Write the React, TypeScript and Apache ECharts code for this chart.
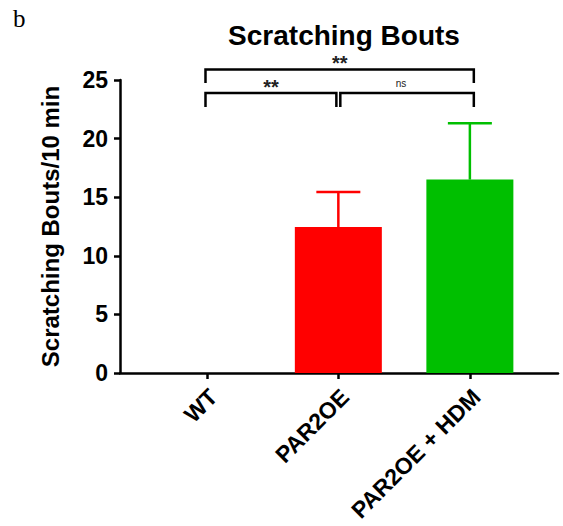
import React, { useEffect, useRef } from "react";
import * as echarts from "echarts";

const categories = ["WT", "PAR2OE", "PAR2OE + HDM"];
const means = [0, 12.45, 16.5];
const errors = [0, 3.0, 4.8];
const barColors = ["#000000", "#FF0000", "#00BF00"];
const yTicks = [0, 5, 10, 15, 20, 25];
// brackets: [x start, x end, bar height, drop end, label]
const brackets: [number, number, number, number, string][] = [
  [-0.01, 2.03, 25.9, 24.75, "**"],
  [-0.01, 0.985, 23.9, 22.7, "**"],
  [1.015, 2.03, 23.9, 22.7, "ns"],
];

const FONT = "Arial, 'Liberation Sans', sans-serif";

export default function App() {
  const ref = useRef<HTMLDivElement>(null);
  useEffect(() => {
    document.body.style.margin = "0";
    const chart = echarts.init(ref.current!, null, { renderer: "svg" });
    const idx = categories.map((_, i) => i);
    const labelPos = idx.map((i) => i + 0.05);
    chart.setOption({
      animation: false,
      backgroundColor: "#ffffff",
      title: {
        text: "Scratching Bouts",
        left: 339,
        top: 16,
        textAlign: "center",
        textStyle: { fontFamily: FONT, fontWeight: "bold", fontSize: 28, color: "#000" },
      },
      graphic: [
        {
          type: "text",
          left: 13,
          top: 6,
          style: { text: "b", font: "25px 'Liberation Serif', 'Times New Roman', serif", fill: "#000" },
        },
      ],
      grid: { left: 120, right: 5, top: 80, bottom: 153 },
      xAxis: {
        type: "value",
        min: -0.66,
        max: 2.67,
        splitLine: { show: false },
        axisLine: { show: true, onZero: false, lineStyle: { color: "#000", width: 2.5 } },
        axisTick: { show: true, customValues: idx, length: 6, lineStyle: { color: "#000", width: 2.5 } },
        axisLabel: {
          customValues: labelPos,
          formatter: (v: number) => categories[Math.round(v)] ?? "",
          rotate: 45,
          margin: 20,
          fontFamily: FONT,
          fontWeight: "bold",
          fontSize: 23,
          color: "#000",
        },
      },
      yAxis: {
        type: "value",
        min: 0,
        max: 25,
        interval: 5,
        name: "Scratching Bouts/10 min",
        nameLocation: "middle",
        nameGap: 58,
        nameTextStyle: { fontFamily: FONT, fontWeight: "bold", fontSize: 24, color: "#000" },
        splitLine: { show: false },
        axisLine: { show: true, onZero: false, lineStyle: { color: "#000", width: 2.5 } },
        axisTick: { show: true, length: 6, lineStyle: { color: "#000", width: 2.5 } },
        axisLabel: {
          margin: 12,
          fontFamily: FONT,
          fontWeight: "bold",
          fontSize: 23,
          color: "#000",
          formatter: (v: number) => (yTicks.includes(v) ? String(v) : ""),
        },
      },
      series: [
        {
          type: "bar",
          barWidth: 87,
          data: means.map((m, i) => ({ value: [i, m], itemStyle: { color: barColors[i] } })),
        },
        {
          type: "custom",
          data: means.map((m, i) => [i, m, m + errors[i]]).filter((d) => d[2] > d[1]),
          renderItem: (params: any, api: any) => {
            const x = api.value(0);
            const base = api.coord([x, api.value(1)]);
            const top = api.coord([x, api.value(2)]);
            const color = barColors[Math.round(x)];
            const style = { stroke: color, lineWidth: 2.5 };
            return {
              type: "group",
              children: [
                { type: "line", shape: { x1: base[0], y1: base[1], x2: top[0], y2: top[1] }, style },
                { type: "line", shape: { x1: top[0] - 22, y1: top[1], x2: top[0] + 22, y2: top[1] }, style },
              ],
            };
          },
          z: 3,
        },
        {
          type: "custom",
          clip: false,
          data: brackets.map((b) => [b[0], b[1], b[2], b[3]]),
          renderItem: (params: any, api: any) => {
            const b = brackets[params.dataIndex];
            const p1 = api.coord([api.value(0), api.value(3)]);
            const p2 = api.coord([api.value(0), api.value(2)]);
            const p3 = api.coord([api.value(1), api.value(2)]);
            const p4 = api.coord([api.value(1), api.value(3)]);
            const isNs = b[4] === "ns";
            return {
              type: "group",
              children: [
                {
                  type: "polyline",
                  shape: { points: [p1, p2, p3, p4] },
                  style: { stroke: "#000", lineWidth: 2.5, fill: null },
                },
                {
                  type: "text",
                  x: (p2[0] + p3[0]) / 2 - (isNs ? 6 : 0),
                  y: p2[1] - (isNs ? 9 : 6),
                  style: {
                    text: b[4],
                    fontFamily: FONT,
                    fontWeight: isNs ? "normal" : "bold",
                    fontSize: isNs ? 10 : 20,
                    fill: "#222",
                    align: "center",
                    verticalAlign: "middle",
                  },
                },
              ],
            };
          },
        },
      ],
    });
    return () => chart.dispose();
  }, []);
  return <div ref={ref} style={{ position: "fixed", left: 0, top: 0, width: 563, height: 526 }} />;
}
